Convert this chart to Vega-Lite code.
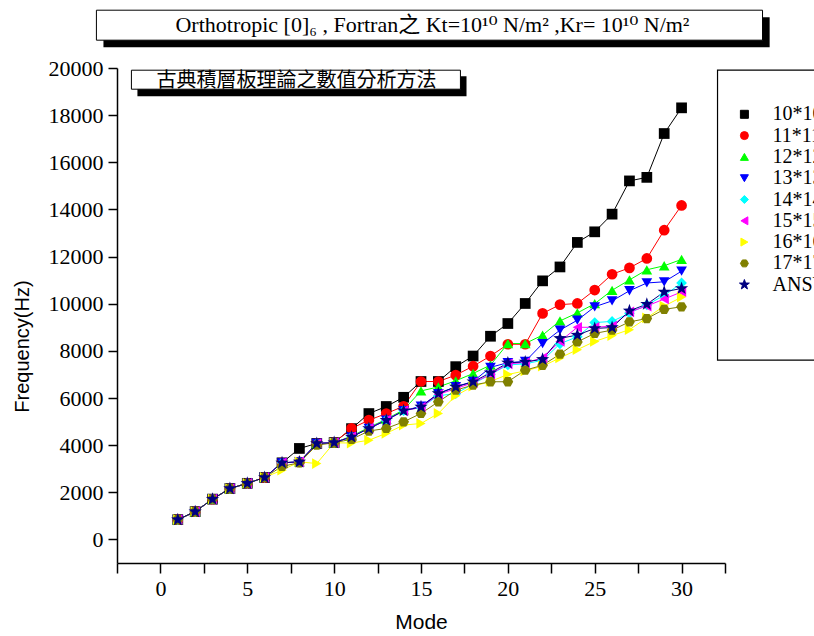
{
"$schema": "https://vega.github.io/schema/vega-lite/v6.json",
"width": 608, "height": 495,
"autosize": {"type": "none"},
"padding": {"left": 117, "top": 68, "right": 89, "bottom": 73},
"background": "white",
"config": {"view": {"stroke": null}},
"datasets": {"pts": [
{"mode":1,"series":"10*10","freq":840},{"mode":2,"series":"10*10","freq":1180},{"mode":3,"series":"10*10","freq":1710},{"mode":4,"series":"10*10","freq":2160},{"mode":5,"series":"10*10","freq":2380},{"mode":6,"series":"10*10","freq":2630},{"mode":7,"series":"10*10","freq":3250},{"mode":8,"series":"10*10","freq":3860},{"mode":9,"series":"10*10","freq":4070},{"mode":10,"series":"10*10","freq":4110},{"mode":11,"series":"10*10","freq":4700},{"mode":12,"series":"10*10","freq":5340},{"mode":13,"series":"10*10","freq":5640},{"mode":14,"series":"10*10","freq":6030},{"mode":15,"series":"10*10","freq":6700},{"mode":16,"series":"10*10","freq":6700},{"mode":17,"series":"10*10","freq":7330},{"mode":18,"series":"10*10","freq":7780},{"mode":19,"series":"10*10","freq":8620},{"mode":20,"series":"10*10","freq":9160},{"mode":21,"series":"10*10","freq":10010},{"mode":22,"series":"10*10","freq":10970},{"mode":23,"series":"10*10","freq":11560},{"mode":24,"series":"10*10","freq":12600},{"mode":25,"series":"10*10","freq":13050},{"mode":26,"series":"10*10","freq":13800},{"mode":27,"series":"10*10","freq":15210},{"mode":28,"series":"10*10","freq":15360},{"mode":29,"series":"10*10","freq":17220},{"mode":30,"series":"10*10","freq":18310},
{"mode":1,"series":"11*11","freq":840},{"mode":2,"series":"11*11","freq":1180},{"mode":3,"series":"11*11","freq":1710},{"mode":4,"series":"11*11","freq":2160},{"mode":5,"series":"11*11","freq":2380},{"mode":6,"series":"11*11","freq":2630},{"mode":7,"series":"11*11","freq":3250},{"mode":8,"series":"11*11","freq":3290},{"mode":9,"series":"11*11","freq":4070},{"mode":10,"series":"11*11","freq":4110},{"mode":11,"series":"11*11","freq":4710},{"mode":12,"series":"11*11","freq":5060},{"mode":13,"series":"11*11","freq":5340},{"mode":14,"series":"11*11","freq":5650},{"mode":15,"series":"11*11","freq":6700},{"mode":16,"series":"11*11","freq":6700},{"mode":17,"series":"11*11","freq":6970},{"mode":18,"series":"11*11","freq":7350},{"mode":19,"series":"11*11","freq":7780},{"mode":20,"series":"11*11","freq":8280},{"mode":21,"series":"11*11","freq":8280},{"mode":22,"series":"11*11","freq":9590},{"mode":23,"series":"11*11","freq":9960},{"mode":24,"series":"11*11","freq":10010},{"mode":25,"series":"11*11","freq":10580},{"mode":26,"series":"11*11","freq":11250},{"mode":27,"series":"11*11","freq":11520},{"mode":28,"series":"11*11","freq":11920},{"mode":29,"series":"11*11","freq":13120},{"mode":30,"series":"11*11","freq":14170},
{"mode":1,"series":"12*12","freq":840},{"mode":2,"series":"12*12","freq":1180},{"mode":3,"series":"12*12","freq":1710},{"mode":4,"series":"12*12","freq":2160},{"mode":5,"series":"12*12","freq":2380},{"mode":6,"series":"12*12","freq":2630},{"mode":7,"series":"12*12","freq":3250},{"mode":8,"series":"12*12","freq":3290},{"mode":9,"series":"12*12","freq":4070},{"mode":10,"series":"12*12","freq":4110},{"mode":11,"series":"12*12","freq":4380},{"mode":12,"series":"12*12","freq":4750},{"mode":13,"series":"12*12","freq":5100},{"mode":14,"series":"12*12","freq":5500},{"mode":15,"series":"12*12","freq":6300},{"mode":16,"series":"12*12","freq":6470},{"mode":17,"series":"12*12","freq":6730},{"mode":18,"series":"12*12","freq":7040},{"mode":19,"series":"12*12","freq":7400},{"mode":20,"series":"12*12","freq":8310},{"mode":21,"series":"12*12","freq":8310},{"mode":22,"series":"12*12","freq":8670},{"mode":23,"series":"12*12","freq":9270},{"mode":24,"series":"12*12","freq":9610},{"mode":25,"series":"12*12","freq":10000},{"mode":26,"series":"12*12","freq":10570},{"mode":27,"series":"12*12","freq":11010},{"mode":28,"series":"12*12","freq":11440},{"mode":29,"series":"12*12","freq":11610},{"mode":30,"series":"12*12","freq":11880},
{"mode":1,"series":"13*13","freq":840},{"mode":2,"series":"13*13","freq":1180},{"mode":3,"series":"13*13","freq":1710},{"mode":4,"series":"13*13","freq":2160},{"mode":5,"series":"13*13","freq":2380},{"mode":6,"series":"13*13","freq":2630},{"mode":7,"series":"13*13","freq":3250},{"mode":8,"series":"13*13","freq":3290},{"mode":9,"series":"13*13","freq":4070},{"mode":10,"series":"13*13","freq":4110},{"mode":11,"series":"13*13","freq":4350},{"mode":12,"series":"13*13","freq":4710},{"mode":13,"series":"13*13","freq":5060},{"mode":14,"series":"13*13","freq":5460},{"mode":15,"series":"13*13","freq":5650},{"mode":16,"series":"13*13","freq":6190},{"mode":17,"series":"13*13","freq":6480},{"mode":18,"series":"13*13","freq":6700},{"mode":19,"series":"13*13","freq":7300},{"mode":20,"series":"13*13","freq":7500},{"mode":21,"series":"13*13","freq":7550},{"mode":22,"series":"13*13","freq":8310},{"mode":23,"series":"13*13","freq":8880},{"mode":24,"series":"13*13","freq":9300},{"mode":25,"series":"13*13","freq":9870},{"mode":26,"series":"13*13","freq":10120},{"mode":27,"series":"13*13","freq":10550},{"mode":28,"series":"13*13","freq":10880},{"mode":29,"series":"13*13","freq":10930},{"mode":30,"series":"13*13","freq":11380},
{"mode":1,"series":"14*14","freq":840},{"mode":2,"series":"14*14","freq":1180},{"mode":3,"series":"14*14","freq":1710},{"mode":4,"series":"14*14","freq":2160},{"mode":5,"series":"14*14","freq":2380},{"mode":6,"series":"14*14","freq":2630},{"mode":7,"series":"14*14","freq":3250},{"mode":8,"series":"14*14","freq":3290},{"mode":9,"series":"14*14","freq":4070},{"mode":10,"series":"14*14","freq":4110},{"mode":11,"series":"14*14","freq":4350},{"mode":12,"series":"14*14","freq":4710},{"mode":13,"series":"14*14","freq":5060},{"mode":14,"series":"14*14","freq":5460},{"mode":15,"series":"14*14","freq":5600},{"mode":16,"series":"14*14","freq":6100},{"mode":17,"series":"14*14","freq":6180},{"mode":18,"series":"14*14","freq":6600},{"mode":19,"series":"14*14","freq":7000},{"mode":20,"series":"14*14","freq":7400},{"mode":21,"series":"14*14","freq":7450},{"mode":22,"series":"14*14","freq":7600},{"mode":23,"series":"14*14","freq":8300},{"mode":24,"series":"14*14","freq":8600},{"mode":25,"series":"14*14","freq":9200},{"mode":26,"series":"14*14","freq":9250},{"mode":27,"series":"14*14","freq":9600},{"mode":28,"series":"14*14","freq":9950},{"mode":29,"series":"14*14","freq":10350},{"mode":30,"series":"14*14","freq":10880},
{"mode":1,"series":"15*15","freq":840},{"mode":2,"series":"15*15","freq":1180},{"mode":3,"series":"15*15","freq":1710},{"mode":4,"series":"15*15","freq":2160},{"mode":5,"series":"15*15","freq":2380},{"mode":6,"series":"15*15","freq":2630},{"mode":7,"series":"15*15","freq":3250},{"mode":8,"series":"15*15","freq":3290},{"mode":9,"series":"15*15","freq":4070},{"mode":10,"series":"15*15","freq":4110},{"mode":11,"series":"15*15","freq":4350},{"mode":12,"series":"15*15","freq":4710},{"mode":13,"series":"15*15","freq":5060},{"mode":14,"series":"15*15","freq":5460},{"mode":15,"series":"15*15","freq":5600},{"mode":16,"series":"15*15","freq":6150},{"mode":17,"series":"15*15","freq":6400},{"mode":18,"series":"15*15","freq":6650},{"mode":19,"series":"15*15","freq":7000},{"mode":20,"series":"15*15","freq":7450},{"mode":21,"series":"15*15","freq":7500},{"mode":22,"series":"15*15","freq":7700},{"mode":23,"series":"15*15","freq":8400},{"mode":24,"series":"15*15","freq":9000},{"mode":25,"series":"15*15","freq":9000},{"mode":26,"series":"15*15","freq":9050},{"mode":27,"series":"15*15","freq":9650},{"mode":28,"series":"15*15","freq":9900},{"mode":29,"series":"15*15","freq":10200},{"mode":30,"series":"15*15","freq":10500},
{"mode":1,"series":"16*16","freq":840},{"mode":2,"series":"16*16","freq":1180},{"mode":3,"series":"16*16","freq":1710},{"mode":4,"series":"16*16","freq":2160},{"mode":5,"series":"16*16","freq":2380},{"mode":6,"series":"16*16","freq":2630},{"mode":7,"series":"16*16","freq":2940},{"mode":8,"series":"16*16","freq":3290},{"mode":9,"series":"16*16","freq":3220},{"mode":10,"series":"16*16","freq":4100},{"mode":11,"series":"16*16","freq":4090},{"mode":12,"series":"16*16","freq":4210},{"mode":13,"series":"16*16","freq":4500},{"mode":14,"series":"16*16","freq":4850},{"mode":15,"series":"16*16","freq":4920},{"mode":16,"series":"16*16","freq":5345},{"mode":17,"series":"16*16","freq":6100},{"mode":18,"series":"16*16","freq":6500},{"mode":19,"series":"16*16","freq":6700},{"mode":20,"series":"16*16","freq":7000},{"mode":21,"series":"16*16","freq":7150},{"mode":22,"series":"16*16","freq":7350},{"mode":23,"series":"16*16","freq":7700},{"mode":24,"series":"16*16","freq":8050},{"mode":25,"series":"16*16","freq":8400},{"mode":26,"series":"16*16","freq":8650},{"mode":27,"series":"16*16","freq":8900},{"mode":28,"series":"16*16","freq":9400},{"mode":29,"series":"16*16","freq":9900},{"mode":30,"series":"16*16","freq":10280},
{"mode":1,"series":"17*17","freq":840},{"mode":2,"series":"17*17","freq":1180},{"mode":3,"series":"17*17","freq":1710},{"mode":4,"series":"17*17","freq":2160},{"mode":5,"series":"17*17","freq":2380},{"mode":6,"series":"17*17","freq":2630},{"mode":7,"series":"17*17","freq":3100},{"mode":8,"series":"17*17","freq":3250},{"mode":9,"series":"17*17","freq":4000},{"mode":10,"series":"17*17","freq":4100},{"mode":11,"series":"17*17","freq":4250},{"mode":12,"series":"17*17","freq":4600},{"mode":13,"series":"17*17","freq":4710},{"mode":14,"series":"17*17","freq":4990},{"mode":15,"series":"17*17","freq":5345},{"mode":16,"series":"17*17","freq":5840},{"mode":17,"series":"17*17","freq":6330},{"mode":18,"series":"17*17","freq":6550},{"mode":19,"series":"17*17","freq":6690},{"mode":20,"series":"17*17","freq":6690},{"mode":21,"series":"17*17","freq":7180},{"mode":22,"series":"17*17","freq":7390},{"mode":23,"series":"17*17","freq":7860},{"mode":24,"series":"17*17","freq":8380},{"mode":25,"series":"17*17","freq":8740},{"mode":26,"series":"17*17","freq":8880},{"mode":27,"series":"17*17","freq":9230},{"mode":28,"series":"17*17","freq":9370},{"mode":29,"series":"17*17","freq":9760},{"mode":30,"series":"17*17","freq":9870},
{"mode":1,"series":"ANSYS","freq":840},{"mode":2,"series":"ANSYS","freq":1180},{"mode":3,"series":"ANSYS","freq":1710},{"mode":4,"series":"ANSYS","freq":2160},{"mode":5,"series":"ANSYS","freq":2380},{"mode":6,"series":"ANSYS","freq":2630},{"mode":7,"series":"ANSYS","freq":3250},{"mode":8,"series":"ANSYS","freq":3290},{"mode":9,"series":"ANSYS","freq":4070},{"mode":10,"series":"ANSYS","freq":4110},{"mode":11,"series":"ANSYS","freq":4350},{"mode":12,"series":"ANSYS","freq":4710},{"mode":13,"series":"ANSYS","freq":5060},{"mode":14,"series":"ANSYS","freq":5460},{"mode":15,"series":"ANSYS","freq":5625},{"mode":16,"series":"ANSYS","freq":6190},{"mode":17,"series":"ANSYS","freq":6470},{"mode":18,"series":"ANSYS","freq":6690},{"mode":19,"series":"ANSYS","freq":7070},{"mode":20,"series":"ANSYS","freq":7490},{"mode":21,"series":"ANSYS","freq":7530},{"mode":22,"series":"ANSYS","freq":7640},{"mode":23,"series":"ANSYS","freq":8530},{"mode":24,"series":"ANSYS","freq":8670},{"mode":25,"series":"ANSYS","freq":8950},{"mode":26,"series":"ANSYS","freq":8990},{"mode":27,"series":"ANSYS","freq":9700},{"mode":28,"series":"ANSYS","freq":9980},{"mode":29,"series":"ANSYS","freq":10500},{"mode":30,"series":"ANSYS","freq":10650}
]},
"layer": [
{"data": {"name": "pts"}, "mark": {"type": "line", "strokeWidth": 1},
 "encoding": {
  "x": {"field": "mode", "type": "quantitative", "scale": {"domain": [-2.5, 32.5], "nice": false, "zero": false},
   "axis": {"values": [-2.5,0,2.5,5,7.5,10,12.5,15,17.5,20,22.5,25,27.5,30,32.5], "format": "d", "labelExpr": "datum.value % 5 === 0 ? datum.label : ''",
    "tickSize": 10,
    "encode": {"ticks": {"update": {"y2": {"signal": "datum.value % 5 === 0 ? 10 : 5"}}}},
    "grid": false, "domainColor": "black", "domainWidth": 1.5, "tickColor": "black", "tickWidth": 1.5,
    "labelFont": "Liberation Serif", "labelFontSize": 22, "labelColor": "black", "labelPadding": 5, "labelFlush": false, "labelOverlap": false,
    "title": "Mode", "titleFont": "Liberation Sans", "titleFontSize": 21, "titleFontWeight": "normal", "titleColor": "black", "titleX": 304, "titleY": 59, "titleAlign": "center", "titleBaseline": "middle"}},
  "y": {"field": "freq", "type": "quantitative", "scale": {"domain": [-1000, 20000], "nice": false, "zero": false},
   "axis": {"values": [0,1000,2000,3000,4000,5000,6000,7000,8000,9000,10000,11000,12000,13000,14000,15000,16000,17000,18000,19000,20000], "format": "d", "labelExpr": "datum.value % 2000 === 0 ? datum.label : ''",
    "tickSize": 9,
    "encode": {"ticks": {"update": {"x2": {"signal": "datum.value % 2000 === 0 ? -9 : -5"}}}},
    "grid": false, "domainColor": "black", "domainWidth": 1.5, "tickColor": "black", "tickWidth": 1.5,
    "labelFont": "Liberation Serif", "labelFontSize": 22, "labelColor": "black", "labelPadding": 5, "labelFlush": false, "labelOverlap": false,
    "title": "Frequency(Hz)", "titleFont": "Liberation Sans", "titleFontSize": 20, "titleFontWeight": "normal", "titleColor": "black", "titleX": -95, "titleY": 278, "titleAlign": "center", "titleBaseline": "middle"}},
  "color": {"field": "series", "type": "nominal", "scale": {"domain": ["10*10","11*11","12*12","13*13","14*14","15*15","16*16","17*17","ANSYS"], "range": ["#000000","#FF0000","#00FF00","#0000FF","#00FFFF","#FF00FF","#FFFF00","#808000","#000080"]},
   "legend": {"orient": "none", "legendX": 617.4, "legendY": 36.3, "zindex": 2, "title": null, "padding": 0, "symbolSize": 64, "labelFont": "Liberation Serif", "labelFontSize": 20, "labelColor": "black", "labelOffset": 18.2, "rowPadding": 1.3, "symbolStrokeWidth": 1}}
 }},
{"data": {"name": "pts"}, "mark": {"type": "point", "filled": true, "opacity": 1, "size": 115},
 "encoding": {
  "x": {"field": "mode", "type": "quantitative"},
  "y": {"field": "freq", "type": "quantitative"},
  "color": {"field": "series", "type": "nominal"},
  "shape": {"field": "series", "type": "nominal", "scale": {"domain": ["10*10","11*11","12*12","13*13","14*14","15*15","16*16","17*17","ANSYS"], "range": ["square","circle","triangle-up","triangle-down","diamond","triangle-left","triangle-right","M-1,0L-0.5,-0.866L0.5,-0.866L1,0L0.5,0.866L-0.5,0.866Z","M0,-1.3L0.306,-0.421L1.236,-0.402L0.495,0.161L0.764,1.052L0,0.52L-0.764,1.052L-0.495,0.161L-1.236,-0.402L-0.306,-0.421Z"]}}
 }},
{"data": {"values": [{}]}, "mark": {"type": "rect", "fill": "white", "fillOpacity": 0, "stroke": "black", "strokeWidth": 1.2},
 "encoding": {"x": {"datum": 32.07, "type": "quantitative"}, "x2": {"datum": 40}, "y": {"datum": 19907, "type": "quantitative"}, "y2": {"datum": 7605}}},
{"data": {"values": [{}]}, "mark": {"type": "rect", "fill": "black"},
 "encoding": {"x": {"datum": -3.28, "type": "quantitative"}, "x2": {"datum": 35.07}, "y": {"datum": 22155, "type": "quantitative"}, "y2": {"datum": 20882}}},
{"data": {"values": [{}]}, "mark": {"type": "rect", "fill": "white", "stroke": "black", "strokeWidth": 1},
 "encoding": {"x": {"datum": -3.685, "type": "quantitative"}, "x2": {"datum": 34.66}, "y": {"datum": 22452, "type": "quantitative"}, "y2": {"datum": 21180}}},
{"data": {"values": [{"label": "Orthotropic [0]₆ , Fortran之 Kt=10¹⁰ N/m² ,Kr= 10¹⁰ N/m²"}]}, "mark": {"type": "text", "font": "Liberation Serif, DejaVu Serif, Noto Sans CJK TC", "fontSize": 22, "color": "black", "align": "center", "baseline": "middle"},
 "encoding": {"x": {"datum": 15.66, "type": "quantitative"}, "y": {"datum": 21816, "type": "quantitative"}, "text": {"field": "label"}}},
{"data": {"values": [{}]}, "mark": {"type": "rect", "fill": "black"},
 "encoding": {"x": {"datum": -1.324, "type": "quantitative"}, "x2": {"datum": 17.62}, "y": {"datum": 19652, "type": "quantitative"}, "y2": {"datum": 18804}}},
{"data": {"values": [{}]}, "mark": {"type": "rect", "fill": "white", "stroke": "black", "strokeWidth": 1},
 "encoding": {"x": {"datum": -1.67, "type": "quantitative"}, "x2": {"datum": 17.27}, "y": {"datum": 19907, "type": "quantitative"}, "y2": {"datum": 19101}}},
{"data": {"values": [{"label": "古典積層板理論之數值分析方法"}]}, "mark": {"type": "text", "font": "Noto Sans CJK TC", "fontSize": 20, "color": "black", "align": "center", "baseline": "middle"},
 "encoding": {"x": {"datum": 7.83, "type": "quantitative"}, "y": {"datum": 19440, "type": "quantitative"}, "text": {"field": "label"}}}
]
}
